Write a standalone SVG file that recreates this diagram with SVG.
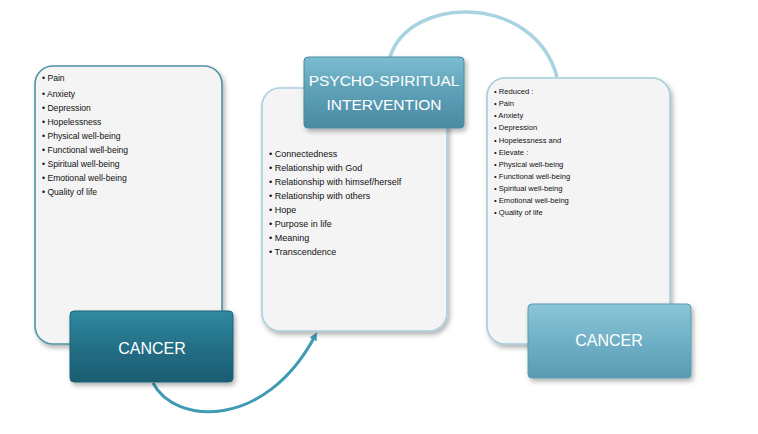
<svg xmlns="http://www.w3.org/2000/svg" width="758" height="434" viewBox="0 0 758 434">
<style>
.list{font-family:"Liberation Sans",Arial,sans-serif;fill:#111}
.l1{font-size:8.6px}
.l2{font-size:9px}
.l3{font-size:7.6px}
.title{font-family:"Liberation Sans",Arial,sans-serif;fill:#fff;text-anchor:middle}
.panel{fill:#f4f4f4;stroke-width:1.6}
</style>
<defs>
<linearGradient id="gDark" x1="0" y1="0" x2="0" y2="1">
<stop offset="0" stop-color="#2f8aa1"/><stop offset="0.5" stop-color="#236f86"/><stop offset="1" stop-color="#1a5d72"/>
</linearGradient>
<linearGradient id="gMid" x1="0" y1="0" x2="0" y2="1">
<stop offset="0" stop-color="#7cbdd0"/><stop offset="0.5" stop-color="#5c9fb6"/><stop offset="1" stop-color="#4b8aa2"/>
</linearGradient>
<linearGradient id="gLight" x1="0" y1="0" x2="0" y2="1">
<stop offset="0" stop-color="#8cc6d8"/><stop offset="0.5" stop-color="#6fb0c6"/><stop offset="1" stop-color="#5a9bb2"/>
</linearGradient>
<filter id="sh" x="-10%" y="-10%" width="125%" height="130%">
<feDropShadow dx="2" dy="3" stdDeviation="2.5" flood-color="#000" flood-opacity="0.3"/>
</filter>
<marker id="ah" markerWidth="8" markerHeight="8" refX="4" refY="4" orient="auto" markerUnits="userSpaceOnUse">
<path d="M0,0 L8,4 L0,8 Z" fill="#3f9ab4"/>
</marker>
</defs>
<rect width="758" height="434" fill="#fff"/>

<g id="connectors">
<path d="M153,383 C175,425 265,430 315,336" fill="none" stroke="#3f9ab4" stroke-width="3" marker-end="url(#ah)"/>
<path d="M390,57 C410,-6 535,-6 557,77" fill="none" stroke="#a9d3e0" stroke-width="3.5"/>
</g>

<g id="panel-left">
<rect class="panel" x="35" y="66" width="187" height="278" rx="18" stroke="#4f93a5" filter="url(#sh)"/>
<g class="list l1">
<text x="42" y="81">• Pain</text>
<text x="42" y="97">• Anxiety</text>
<text x="42" y="111">• Depression</text>
<text x="42" y="125">• Hopelessness</text>
<text x="42" y="139">• Physical well-being</text>
<text x="42" y="153">• Functional well-being</text>
<text x="42" y="167">• Spiritual well-being</text>
<text x="42" y="181">• Emotional well-being</text>
<text x="42" y="195">• Quality of life</text>
</g>
</g>

<g id="panel-middle">
<rect class="panel" x="262" y="88" width="185" height="243" rx="18" stroke="#a9cfdb" filter="url(#sh)"/>
<g class="list l2">
<text x="269" y="157">• Connectedness</text>
<text x="269" y="171">• Relationship with God</text>
<text x="269" y="185">• Relationship with himsef/herself</text>
<text x="269" y="199">• Relationship with others</text>
<text x="269" y="213">• Hope</text>
<text x="269" y="227">• Purpose in life</text>
<text x="269" y="241">• Meaning</text>
<text x="269" y="255">• Transcendence</text>
</g>
</g>

<g id="panel-right">
<rect class="panel" x="487" y="78" width="183" height="266" rx="18" stroke="#a3cdd9" filter="url(#sh)"/>
<g class="list l3">
<text x="494" y="94">• Reduced :</text>
<text x="494" y="106">• Pain</text>
<text x="494" y="118">• Anxiety</text>
<text x="494" y="130">• Depression</text>
<text x="494" y="143">• Hopelessness and</text>
<text x="494" y="155">• Elevate  :</text>
<text x="494" y="167">• Physical well-being</text>
<text x="494" y="179">• Functional well-being</text>
<text x="494" y="191">• Spiritual well-being</text>
<text x="494" y="203">• Emotional well-being</text>
<text x="494" y="215">• Quality of life</text>
</g>
</g>

<g id="cancer-left">
<rect x="70" y="311" width="163" height="71" rx="4" fill="url(#gDark)" stroke="#1d6378" stroke-width="1" filter="url(#sh)"/>
<text class="title" x="152" y="354" font-size="16">CANCER</text>
</g>

<g id="psycho-spiritual">
<rect x="304" y="57" width="160" height="71" rx="4" fill="url(#gMid)" stroke="#4a8ba2" stroke-width="1" filter="url(#sh)"/>
<text class="title" x="384" y="86" font-size="15.5">PSYCHO-SPIRITUAL</text>
<text class="title" x="384" y="110" font-size="15.5">INTERVENTION</text>
</g>

<g id="cancer-right">
<rect x="528" y="304" width="163" height="74" rx="4" fill="url(#gLight)" stroke="#5a9bb2" stroke-width="1" filter="url(#sh)"/>
<text class="title" x="609" y="346" font-size="16">CANCER</text>
</g>
</svg>
